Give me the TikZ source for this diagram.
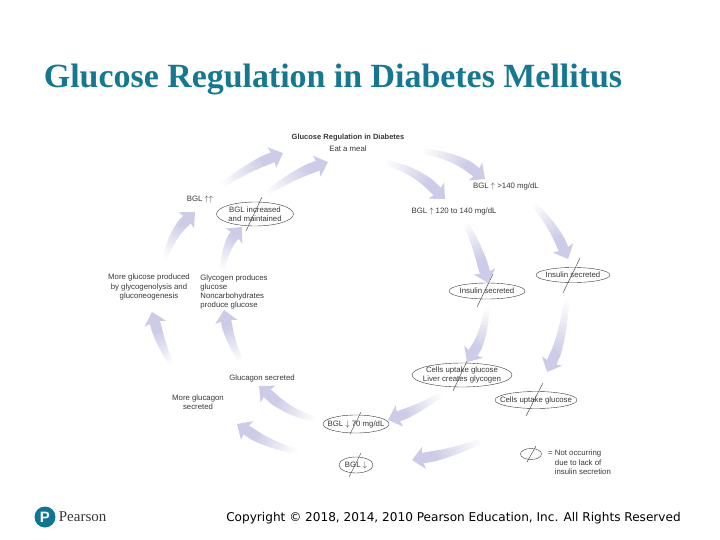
\documentclass[tikz,border=0pt]{standalone}
\usepackage{fontspec}
\setmainfont{Liberation Sans}
\newfontfamily\titlefont{Liberation Serif}
\newfontfamily\copyfont{DejaVu Sans}
\usetikzlibrary{arrows.meta, positioning, calc}
\definecolor{teal}{RGB}{20, 120, 145}
\definecolor{charcoal}{RGB}{55, 55, 55}
\definecolor{lavender}{RGB}{204, 204, 232}
\definecolor{pearson}{RGB}{14, 118, 148}
\newcommand{\flowarrow}[3]{
    \coordinate (tail) at #1;
    \coordinate (ctrl) at #2;
    \coordinate (tip) at #3;
    \foreach \t in {0,0.05,...,0.66}{
        \pgfmathsetmacro{\tnext}{\t+0.06}
        \pgfmathsetmacro{\shade}{min(100,\t*150)}
        \pgfmathsetmacro{\wide}{5+8*\t}
        \draw[color=lavender!\shade!white, line width=\wide pt]
            ($($(tail)!\t!(ctrl)$)!\t!($(ctrl)!\t!(tip)$)$) --
            ($($(tail)!\tnext!(ctrl)$)!\tnext!($(ctrl)!\tnext!(tip)$)$);
    }
    \draw[flow] ($($(tail)!0.7!(ctrl)$)!0.7!($(ctrl)!0.7!(tip)$)$) -- (tip);
}
\begin{document}
\begin{tikzpicture}[
            x=1pt, y=-1pt,
            lbl/.style={inner sep=0pt, align=center, text=charcoal, font=\fontsize{7.8}{9.2}\selectfont},
            oval/.style={draw=charcoal, line width=0.4pt},
            slash/.style={draw=charcoal, line width=0.4pt},
            flow/.style={color=lavender, line width=10.5pt, -{Stealth[length=12pt, width=22pt, inset=2pt]}}
        ]
            \useasboundingbox (0,0) rectangle (720,540);

            \node[inner sep=0pt, text=teal, font=\titlefont\fontsize{33.9}{38}\selectfont\bfseries] (title) at (333,79) {Glucose Regulation in Diabetes Mellitus};

            \node[lbl, font=\fontsize{7.5}{9.2}\selectfont\bfseries] (head) at (348,138) {Glucose Regulation in Diabetes};
            \node[lbl, below=4pt of head] (meal) {Eat a meal};
            \node[lbl] (bglhigh) at (506,186) {BGL $\uparrow$ >140 mg/dL};
            \node[lbl] (bglmid) at (454,211) {BGL $\uparrow$ 120 to 140 mg/dL};
            \node[lbl] (insouter) at (573,275) {Insulin secreted};
            \node[lbl] (insinner) at (487,291) {Insulin secreted};
            \node[lbl] (cellsliver) at (462,375) {Cells uptake glucose\\Liver creates glycogen};
            \node[lbl] (cellsout) at (536,400) {Cells uptake glucose};
            \node[lbl] (bgl70) at (356,424) {BGL $\downarrow$ 70 mg/dL};
            \node[lbl] (bgllow) at (356,465) {BGL $\downarrow$};
            \node[lbl] (glucagon) at (262,378) {Glucagon secreted};
            \node[lbl] (moreglucagon) at (198,402) {More glucagon\\secreted};
            \node[lbl] (moreglucose) at (149,287) {More glucose produced\\by glycogenolysis and\\gluconeogenesis};
            \node[lbl, align=left] (glycogen) at (234,292) {Glycogen produces\\glucose\\Noncarbohydrates\\produce glucose};
            \node[lbl] (bglup) at (200,200) {BGL $\uparrow\uparrow$};
            \node[lbl] (bglinc) at (255,214) {BGL increased\\and maintained};
            \coordinate (legend) at (531,454);
            \node[lbl, align=left, anchor=north west] (legendnote) at (548,450) {= Not occurring\\\phantom{= }due to lack of\\\phantom{= }insulin secretion};

            \draw[oval] (insouter) ellipse [x radius=37pt, y radius=7.5pt];
            \draw[oval] (insinner) ellipse [x radius=38pt, y radius=8pt];
            \draw[oval] (cellsliver) ellipse [x radius=50pt, y radius=12pt];
            \draw[oval] (cellsout) ellipse [x radius=41pt, y radius=8.5pt];
            \draw[oval] (bgl70) ellipse [x radius=33pt, y radius=9pt];
            \draw[oval] (bgllow) ellipse [x radius=17pt, y radius=8pt];
            \draw[oval] (bglinc) ellipse [x radius=38.5pt, y radius=12pt];
            \draw[oval] (legend) ellipse [x radius=10.5pt, y radius=5.5pt];

            \draw[slash] ($(insouter)+(7,-17)$) -- ($(insouter)+(-10,18)$);
            \draw[slash] ($(insinner)+(6,-17)$) -- ($(insinner)+(-10,16)$);
            \draw[slash] ($(cellsliver)+(6,-16)$) -- ($(cellsliver)+(-9,16)$);
            \draw[slash] ($(cellsout)+(7,-17)$) -- ($(cellsout)+(-10,16)$);
            \draw[slash] ($(bgl70)+(5,-12)$) -- ($(bgl70)+(-6,10)$);
            \draw[slash] ($(bgllow)+(5,-12)$) -- ($(bgllow)+(-7,12)$);
            \draw[slash] ($(bglinc)+(7,-17)$) -- ($(bglinc)+(-9,17)$);
            \draw[slash] ($(legend)+(5,-8)$) -- ($(legend)+(-4,8)$);

            \flowarrow{($(meal)+(71,2)$)}{(460,155)}{($(bglhigh)+(-21,-7)$)}
            \flowarrow{($(meal)+(35,13)$)}{(420,170)}{($(bglmid)+(-9,-12)$)}
            \flowarrow{($(bglhigh)+(26,17)$)}{(555,225)}{($(insouter)+(-5,-16)$)}
            \flowarrow{($(bglmid)+(11,11)$)}{(478,245)}{($(insinner)+(1,-8)$)}
            \flowarrow{($(insouter)+(-6,20)$)}{(563,345)}{($(cellsout)+(11,-28)$)}
            \flowarrow{($(insinner)+(0,14)$)}{(485,340)}{($(cellsliver)+(5,-13)$)}
            \flowarrow{($(cellsliver)+(-19,18)$)}{(415,412)}{($(bgl70)+(32,-4)$)}
            \flowarrow{($(cellsout)+(-53,40)$)}{(450,455)}{($(bgllow)+(56,-5)$)}
            \flowarrow{($(bgl70)+(-38,-4)$)}{(285,413)}{($(glucagon)+(-3,8)$)}
            \flowarrow{($(bgllow)+(-56,-13)$)}{(265,445)}{($(moreglucagon)+(39,22)$)}
            \flowarrow{($(moreglucagon)+(-26,-37)$)}{(160,345)}{($(moreglucose)+(3,25)$)}
            \flowarrow{($(glucagon)+(-20,-16)$)}{(228,340)}{($(glycogen)+(-10,18)$)}
            \flowarrow{($(moreglucose)+(16,-27)$)}{(172,230)}{($(bglup)+(-5,12)$)}
            \flowarrow{($(glycogen)+(-12,-20)$)}{(226,240)}{($(bglinc)+(-13,13)$)}
            \flowarrow{($(bglup)+(20,-13)$)}{(250,165)}{($(head)+(-65,15)$)}
            \flowarrow{($(bglinc)+(10,-19)$)}{(295,172)}{($(head)+(-20,24)$)}

            \node[circle, fill=pearson, text=white, minimum size=21pt, inner sep=0pt, font=\fontsize{15}{15}\selectfont\bfseries] (logo) at (45,517) {P};
            \node[right=3pt of logo, inner sep=0pt, text=charcoal, font=\titlefont\fontsize{15}{15}\selectfont] (brand) {Pearson};
            \node[inner sep=0pt, text=black, font=\copyfont\fontsize{12.1}{14}\selectfont] (copyright) at (453.5,518) {Copyright © 2018, 2014, 2010 Pearson Education, Inc. All Rights Reserved};
        \end{tikzpicture}
\end{document}
